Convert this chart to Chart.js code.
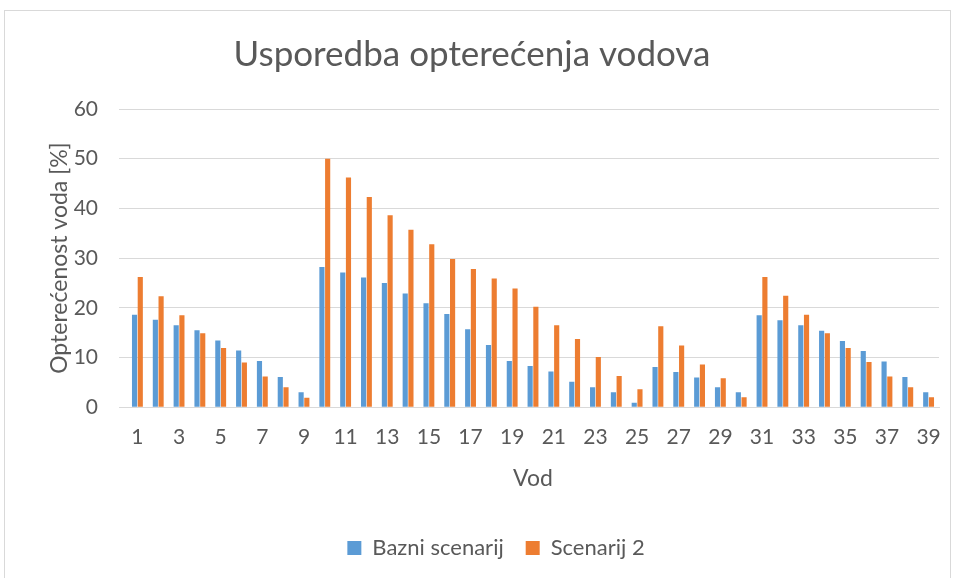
<!DOCTYPE html>
<html>
<head>
<meta charset="utf-8">
<script src="https://cdn.jsdelivr.net/npm/chart.js@4/dist/chart.umd.min.js"></script>
<style>
    body { margin: 0; background: #fff; overflow: hidden; }
    #frame {
        position: absolute; left: 4px; top: 10px;
        width: 945px; height: 600px;
        border: 1px solid #d9d9d9;
    }
    canvas { display: block; }
</style>
</head>
<body>
<div id="frame"><canvas id="chart" width="945" height="567"></canvas></div>
<script>
// ===== Data =====
const vodovi = Array.from({ length: 39 }, (_, i) => String(i + 1));
const bazniScenarij = [
    18.6, 17.6, 16.5, 15.5, 13.4, 11.4, 9.3, 6.1, 3.0, 28.2,
    27.1, 26.1, 25.0, 22.9, 20.9, 18.75, 15.7, 12.5, 9.3, 8.3,
    7.2, 5.1, 4.0, 3.0, 0.9, 8.1, 7.1, 6.0, 4.0, 3.0,
    18.5, 17.5, 16.5, 15.4, 13.3, 11.3, 9.2, 6.1, 3.0
];
const scenarij2 = [
    26.2, 22.3, 18.5, 14.9, 11.9, 9.0, 6.2, 4.0, 1.9, 50.0,
    46.2, 42.3, 38.6, 35.7, 32.8, 29.8, 27.8, 25.9, 23.9, 20.2,
    16.5, 13.7, 10.1, 6.3, 3.6, 16.3, 12.4, 8.6, 5.8, 2.0,
    26.2, 22.4, 18.6, 14.9, 11.9, 9.1, 6.2, 4.0, 2.0
];

// ===== Colors =====
const colors = {
    blue: '#5B9BD5',
    orange: '#ED7D31',
    text: '#595959',
    grid: '#D9D9D9'
};
const fontFamily = 'Lato, "Open Sans", sans-serif';

// nudge the legend a bit to the right, like the original
const legendShift = {
    id: 'legendShift',
    afterLayout(chart) {
        chart.legend.left += 24;
        chart.legend.right += 24;
    }
};

new Chart(document.getElementById('chart'), {
    type: 'bar',
    data: {
        labels: vodovi,
        datasets: [
            {
                label: 'Bazni scenarij',
                data: bazniScenarij,
                backgroundColor: colors.blue,
                categoryPercentage: 0.55,
                barPercentage: 0.9
            },
            {
                label: 'Scenarij 2',
                data: scenarij2,
                backgroundColor: colors.orange,
                categoryPercentage: 0.55,
                barPercentage: 0.9
            }
        ]
    },
    options: {
        responsive: false,
        animation: false,
        layout: { padding: { left: 0, right: 11, top: 0, bottom: 9 } },
        plugins: {
            title: {
                display: true,
                text: 'Usporedba opterećenja vodova',
                color: colors.text,
                font: { family: fontFamily, size: 35, weight: 'normal' },
                padding: { top: 23, bottom: 33 }
            },
            legend: {
                position: 'bottom',
                labels: {
                    color: colors.text,
                    font: { family: fontFamily, size: 22 },
                    boxWidth: 14,
                    boxHeight: 14,
                    padding: 22
                }
            },
            tooltip: { enabled: false }
        },
        scales: {
            x: {
                grid: { display: false },
                border: { color: colors.grid, width: 1 },
                ticks: {
                    color: colors.text,
                    font: { family: fontFamily, size: 21 },
                    autoSkip: false,
                    maxRotation: 0,
                    padding: 9,
                    callback: (value, index) => index % 2 === 0 ? vodovi[index] : ''
                },
                title: {
                    display: true,
                    text: 'Vod',
                    color: colors.text,
                    font: { family: fontFamily, size: 23 },
                    padding: { top: 6, bottom: 23 }
                }
            },
            y: {
                min: 0,
                max: 60,
                grid: { color: colors.grid, lineWidth: 1 },
                border: { display: false },
                ticks: {
                    stepSize: 10,
                    color: colors.text,
                    font: { family: fontFamily, size: 21 },
                    padding: 21
                },
                title: {
                    display: true,
                    text: 'Opterećenost voda [%]',
                    color: colors.text,
                    font: { family: fontFamily, size: 23 },
                    padding: { top: 41, bottom: 8 }
                },
                afterFit: (scale) => { scale.width = 122; }
            }
        }
    },
    plugins: [legendShift]
});
</script>
</body>
</html>
